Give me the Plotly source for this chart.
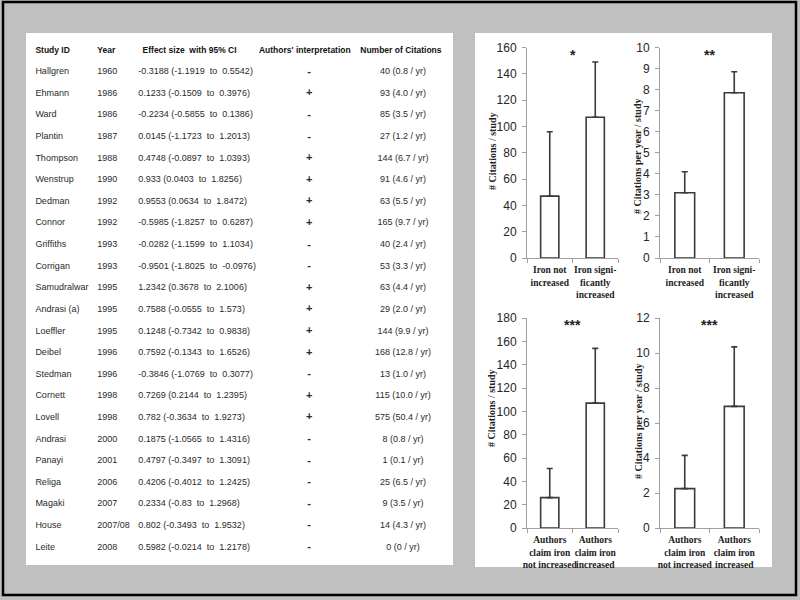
import plotly.graph_objects as go

# ---------------- table data ----------------
headers = ["Study ID", "Year", "Effect size\u00a0 with 95% CI", "Authors' interpretation", "Number of Citations"]
study_ids = ["Hallgren", "Ehmann", "Ward", "Plantin", "Thompson", "Wenstrup", "Dedman", "Connor",
             "Griffiths", "Corrigan", "Samudralwar", "Andrasi (a)", "Loeffler", "Deibel", "Stedman",
             "Cornett", "Lovell", "Andrasi", "Panayi", "Religa", "Magaki", "House", "Leite"]
years = ["1960", "1986", "1986", "1987", "1988", "1990", "1992", "1992", "1993", "1993", "1995", "1995",
         "1995", "1996", "1996", "1998", "1998", "2000", "2001", "2006", "2007", "2007/08", "2008"]
effect = ["-0.3188", "0.1233", "-0.2234", "0.0145", "0.4748", "0.933", "0.9553", "-0.5985", "-0.0282",
          "-0.9501", "1.2342", "0.7588", "0.1248", "0.7592", "-0.3846", "0.7269", "0.782", "0.1875",
          "0.4797", "0.4206", "0.2334", "0.802", "0.5982"]
ci_low = ["-1.1919", "-0.1509", "-0.5855", "-1.1723", "-0.0897", "0.0403", "0.0634", "-1.8257", "-1.1599",
          "-1.8025", "0.3678", "-0.0555", "-0.7342", "-0.1343", "-1.0769", "0.2144", "-0.3634", "-1.0565",
          "-0.3497", "-0.4012", "-0.83", "-0.3493", "-0.0214"]
ci_high = ["0.5542", "0.3976", "0.1386", "1.2013", "1.0393", "1.8256", "1.8472", "0.6287", "1.1034",
           "-0.0976", "2.1006", "1.573", "0.9838", "1.6526", "0.3077", "1.2395", "1.9273", "1.4316",
           "1.3091", "1.2425", "1.2968", "1.9532", "1.2178"]
interp = ["-", "+", "-", "-", "+", "+", "+", "+", "-", "-", "+", "+", "+", "+", "-", "+", "+",
          "-", "-", "-", "-", "-", "-"]
citations = [40, 93, 85, 27, 144, 91, 63, 165, 40, 53, 63, 29, 144, 168, 13, 115, 575, 8, 1, 25, 9, 14, 0]
per_year = ["0.8", "4.0", "3.5", "1.2", "6.7", "4.6", "5.5", "9.7", "2.4", "3.3", "4.4", "2.0", "9.9",
            "12.8", "1.0", "10.0", "50.4", "0.8", "0.1", "6.5", "3.5", "4.3", "0"]

# ---------------- bar chart data ----------------
cat_iron = ["Iron not<br>increased", "Iron signi-<br>ficantly<br>increased"]
cat_claim = ["Authors<br>claim iron<br>not increased", "Authors<br>claim iron<br>increased"]
cites_iron = [47, 107]
cites_iron_err = [49, 42]
cpy_iron = [3.1, 7.85]
cpy_iron_err = [1.0, 1.0]
cites_claim = [26, 107]
cites_claim_err = [25, 47]
cpy_claim = [2.25, 6.95]
cpy_claim_err = [1.9, 3.4]
stars = ["*", "**", "***", "***"]
ytitles = ["# Citations / study", "# Citations per year / study", "# Citations / study", "# Citations per year / study"]

W, H = 800, 600
def px(x): return x / W
def py(y): return 1 - y / H

fig = go.Figure()

# ---- table as text marks on a hidden axis ----
n = len(study_ids)
rows = list(range(n))
col_x = [0.022, 0.167, 0.263, 0.663, 0.883]
head_x = [0.022, 0.167, 0.273, 0.653, 0.878]
nb = "\u00a0"
eff_text = [f"{e} ({lo} {nb}to{nb} {hi})" for e, lo, hi in zip(effect, ci_low, ci_high)]
cit_text = [f"{c} ({p} / yr)" for c, p in zip(citations, per_year)]
columns = [study_ids, years, eff_text, interp, cit_text]
positions = ["middle right", "middle right", "middle right", "middle center", "middle center"]
for i, (col, pos) in enumerate(zip(columns, positions)):
    fig.add_trace(go.Scatter(
        x=[col_x[i]] * n, y=rows, mode="text", text=col, textposition=pos, cliponaxis=False,
        textfont=dict(family="Arial, Liberation Sans", size=(11 if i == 3 else 9), color="#2a2a2a",
                      weight=("bold" if i == 3 else "normal")),
        xaxis="x5", yaxis="y5", hoverinfo="skip", showlegend=False))
fig.add_trace(go.Scatter(
    x=head_x, y=[-1] * len(headers), mode="text", text=headers, textposition=positions, cliponaxis=False,
    textfont=dict(family="Arial, Liberation Sans", size=8.5, color="#111", weight="bold"),
    xaxis="x5", yaxis="y5", hoverinfo="skip", showlegend=False))

# ---- bar charts ----
charts = [
    (cat_iron, cites_iron, cites_iron_err, "x", "y"),
    (cat_iron, cpy_iron, cpy_iron_err, "x2", "y2"),
    (cat_claim, cites_claim, cites_claim_err, "x3", "y3"),
    (cat_claim, cpy_claim, cpy_claim_err, "x4", "y4"),
]
for cats, vals, errs, xa, ya in charts:
    fig.add_trace(go.Bar(
        x=cats, y=vals, width=0.4,
        marker=dict(color="white", line=dict(color="#3a3a3a", width=1.6)),
        error_y=dict(type="data", symmetric=False, array=errs, arrayminus=[0] * len(errs),
                     color="#3a3a3a", thickness=1.6, width=3),
        xaxis=xa, yaxis=ya, hoverinfo="skip", showlegend=False))

axis_line = "#a0a0a0"
def yax(rng, dtick, dom):
    return dict(domain=dom, range=rng, dtick=dtick, showline=True, linecolor=axis_line, linewidth=1,
                ticks="outside", ticklen=4, tickcolor=axis_line, showgrid=False, zeroline=False,
                automargin=False, ticklabelstandoff=3,
                tickfont=dict(family="Arial, Liberation Sans", size=12, color="#262626"), fixedrange=True)
def xax(dom, anchor):
    return dict(domain=dom, anchor=anchor, type="category", range=[-0.5, 1.5], tickson="boundaries",
                ticks="outside", ticklen=4, tickcolor=axis_line, showline=True, linecolor=axis_line,
                linewidth=1, showgrid=False, zeroline=False, tickangle=0, automargin=False,
                ticklabelstandoff=3,
                tickfont=dict(family="Liberation Serif, Times New Roman", size=9.5, color="#222", weight="bold"),
                fixedrange=True)

xd_left = [px(527), px(618)]
xd_right = [px(660), px(759)]
yd_top = [py(258), py(47.5)]
yd_bot = [py(528), py(318)]

fig.update_layout(
    width=W, height=H, margin=dict(l=0, r=0, t=0, b=0, pad=0, autoexpand=False),
    paper_bgcolor="#c0c0c0", plot_bgcolor="white", showlegend=False, bargap=0.2,
    xaxis=xax(xd_left, "y"), yaxis=dict(yax([0, 160], 20, yd_top), anchor="x"),
    xaxis2=xax(xd_right, "y2"), yaxis2=dict(yax([0, 10], 1, yd_top), anchor="x2"),
    xaxis3=xax(xd_left, "y3"), yaxis3=dict(yax([0, 180], 20, yd_bot), anchor="x3"),
    xaxis4=xax(xd_right, "y4"), yaxis4=dict(yax([0, 12], 2, yd_bot), anchor="x4"),
    xaxis5=dict(domain=[px(26), px(453)], range=[0, 1], visible=False, fixedrange=True, anchor="y5"),
    yaxis5=dict(domain=[py(565), py(33)], range=[22.82, -1.806], visible=False, fixedrange=True, anchor="x5"),
)

shapes = [
    dict(type="rect", xref="paper", yref="paper", x0=px(26), x1=px(453), y0=py(565), y1=py(33),
         fillcolor="white", line=dict(width=0), layer="below"),
    dict(type="rect", xref="paper", yref="paper", x0=px(475), x1=px(772), y0=py(567), y1=py(33),
         fillcolor="white", line=dict(width=0), layer="below"),
    dict(type="rect", xref="paper", yref="paper", x0=px(3), x1=px(796), y0=py(595), y1=py(2),
         line=dict(color="black", width=2.5), layer="above"),
]
fig.update_layout(shapes=shapes)

# stars and y-axis titles
annots = []
star_ref = [("x", "y"), ("x2", "y2"), ("x3", "y3"), ("x4", "y4")]
for s, (xa, ya) in zip(stars, star_ref):
    annots.append(dict(text=s, xref=xa, yref=ya + " domain", x=0.5, y=0.965, showarrow=False,
                       font=dict(family="Liberation Sans, Arial", size=14, color="#222", weight="bold"),
                       xanchor="center", yanchor="middle"))
title_pos = [(492, 151), (637, 157), (491, 408), (638, 422)]
for t, (tx, ty) in zip(ytitles, title_pos):
    annots.append(dict(text=t, xref="paper", yref="paper", x=px(tx), y=py(ty), textangle=-90,
                       showarrow=False, xanchor="center", yanchor="middle",
                       font=dict(family="Liberation Serif, Times New Roman", size=10, color="#222",
                                 weight="bold")))
fig.update_layout(annotations=annots)

fig.write_html("out.html", config={"displayModeBar": False},
               post_script="document.body.style.margin='0';document.body.style.overflow='hidden';")
